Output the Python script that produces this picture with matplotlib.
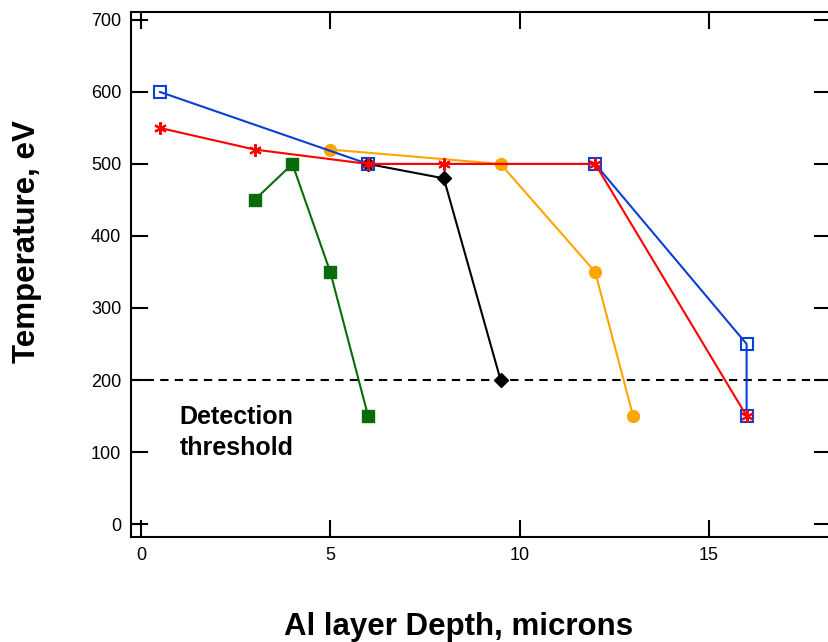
import matplotlib.pyplot as plt

plt.rcParams['font.family'] = ['Liberation Sans', 'DejaVu Sans']

blue_x = [0.5, 6, 12, 16, 16]
blue_y = [600, 500, 500, 250, 150]
red_x = [0.5, 3, 6, 8, 12, 16]
red_y = [550, 520, 500, 500, 500, 150]
orange_x = [5, 9.5, 12, 13]
orange_y = [520, 500, 350, 150]
black_x = [6, 8, 9.5]
black_y = [500, 480, 200]
green_x = [3, 4, 5, 6]
green_y = [450, 500, 350, 150]
threshold = 200

fig = plt.figure(figsize=(8.29, 6.42), dpi=100)
ax = fig.add_axes([131 / 829, 1 - 537 / 642, 700 / 829, 525 / 642])

ax.axhline(threshold, color='black', linestyle=(0, (4, 3)), linewidth=1.5)

ax.plot(green_x, green_y, color='#0a6b0a', marker='s', markersize=9, linewidth=1.5)
ax.plot(black_x, black_y, color='black', marker='D', markersize=7.5, linewidth=1.5)
ax.plot(orange_x, orange_y, color='#ffa500', marker='o', markersize=8.5, linewidth=1.5)
ax.plot(blue_x, blue_y, color='#0a3fd6', marker='s', markersize=8, linewidth=1.5,
        markerfacecolor='none', markeredgewidth=1.5)
ax.plot(red_x, red_y, color='red', marker=(6, 2, 0), markersize=9, linewidth=1.5,
        markeredgewidth=1.5)

ax.text(2.52, 127, 'Detection\nthreshold', ha='center', va='center', multialignment='center',
        fontsize=18, fontweight='bold', linespacing=1.4)

ax.set_xlim(-0.265, 18.23)
ax.set_ylim(-18, 711)
ax.set_xticks([0, 5, 10, 15])
ax.set_yticks([0, 100, 200, 300, 400, 500, 600, 700])
ax.tick_params(direction='in', length=12, width=1.5, labelsize=13,
               top=True, right=True, pad=7)
for s in ax.spines.values():
    s.set_linewidth(1.5)

fig.text(459 / 829, 1 - 627 / 642, 'Al layer Depth, microns', ha='center', va='center',
         fontsize=22.5, fontweight='bold')
fig.text(27 / 829, 1 - 242 / 642, 'Temperature, eV', ha='center', va='center',
         rotation=90, fontsize=22.5, fontweight='bold')

fig.savefig('out.png', dpi=100)
